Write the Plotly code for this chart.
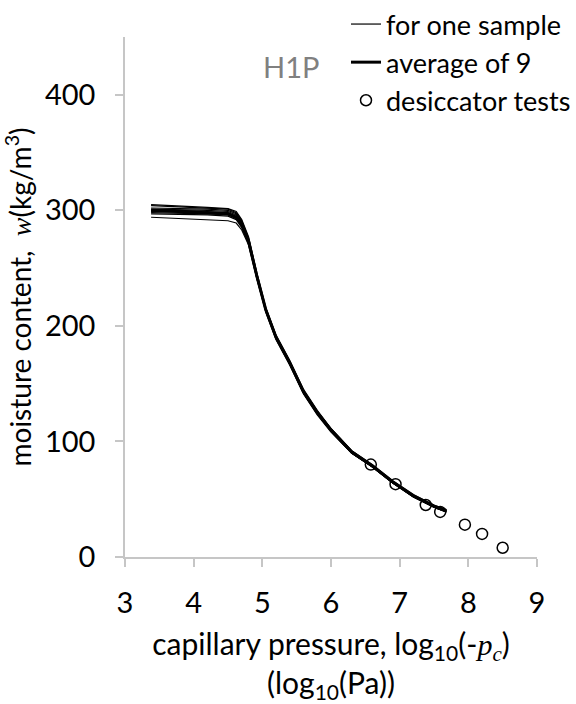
import plotly.graph_objects as go

# shared x grid (log10 of capillary pressure, Pa)
x_grid = [3.38, 3.8, 4.2, 4.5, 4.62, 4.7, 4.8, 4.92, 5.05, 5.2, 5.4, 5.6, 5.8, 6.0, 6.3, 6.6, 6.9, 7.2, 7.5, 7.68]

sample_1 = [305, 304, 302.5, 301.5, 299, 292, 277, 246, 216, 192, 170, 145, 127, 111, 92, 80, 66, 54, 45, 41]
sample_2 = [304, 303, 302, 301, 298, 291, 276, 245, 215, 191, 169, 144, 126, 111, 92, 79, 65, 53, 44, 40]
sample_3 = [302, 301.5, 301, 300, 297, 290, 274, 244, 214, 190, 168, 143, 125, 110, 91, 79, 65, 53, 44, 40]
sample_4 = [301, 300.5, 300, 299, 296, 289, 273, 243, 213, 189, 167, 142, 124, 109, 90, 78, 64, 52, 43, 39]
sample_5 = [300, 300, 299, 298, 295, 288, 274, 244, 215, 191, 169, 143, 125, 110, 91, 79, 65, 53, 44, 40]
sample_6 = [299, 298.5, 298, 297, 294, 287, 272, 242, 213, 189, 167, 142, 124, 109, 90, 78, 64, 53, 44, 40]
sample_7 = [298, 297.5, 297, 296, 293, 286, 271, 241, 212, 188, 166, 141, 123, 108, 90, 78, 64, 52, 43, 39]
sample_8 = [297, 296.5, 296, 295, 292, 285, 272, 243, 214, 190, 168, 143, 125, 110, 91, 79, 65, 53, 44, 40]
sample_9 = [294, 293, 292, 291, 289, 283, 270, 241, 213, 189, 167, 142, 124, 109, 90, 78, 64, 52, 43, 39]
samples = [sample_1, sample_2, sample_3, sample_4, sample_5, sample_6, sample_7, sample_8, sample_9]

average_9 = [300, 299, 298, 297, 294, 288, 273, 243, 214, 190, 168, 143, 125, 110, 91, 79, 65, 53, 44, 40]

desiccator_x = [6.58, 6.94, 7.38, 7.59, 7.95, 8.2, 8.5]
desiccator_w = [80, 63, 45, 39, 28, 20, 8]

x_ticks = [3, 4, 5, 6, 7, 8, 9]
y_ticks = [0, 100, 200, 300, 400]

FONT = "Lato"

fig = go.Figure()
for i, s in enumerate(samples):
    fig.add_trace(go.Scatter(
        x=x_grid, y=s, mode="lines", name="for one sample",
        line=dict(color="black", width=1.2),
        legendgroup="s", showlegend=(i == 0)))

fig.add_trace(go.Scatter(
    x=x_grid, y=average_9, mode="lines", name="average of 9",
    line=dict(color="black", width=3), legendgroup="a"))

fig.add_trace(go.Scatter(
    x=desiccator_x, y=desiccator_w, mode="markers", name="desiccator tests",
    marker=dict(symbol="circle-open", size=11, color="black", line=dict(width=1.5)),
    legendgroup="d"))

axis_col = "#c6c6c6"
fig.update_xaxes(
    range=[3, 9], tickvals=x_ticks, showgrid=False, zeroline=False,
    showline=True, linecolor=axis_col, linewidth=1.5,
    ticks="outside", ticklen=8, tickcolor=axis_col, tickwidth=1.5,
    ticklabelstandoff=11,
    tickfont=dict(family=FONT, size=29, color="black"),
    title=dict(
        text='capillary pressure, log<sub>10</sub>(-<i><span style="font-family:Liberation Serif">p<sub>c</sub></span></i>)<br>(log<sub>10</sub>(Pa))',
        font=dict(family=FONT, size=30, color="black"), standoff=16))
fig.update_yaxes(
    range=[0, 450], tickvals=y_ticks, showgrid=False, zeroline=False,
    showline=True, linecolor=axis_col, linewidth=1.5,
    ticks="outside", ticklen=8, tickcolor=axis_col, tickwidth=1.5,
    ticklabelstandoff=14,
    tickfont=dict(family=FONT, size=29, color="black"),
    title=dict(
        text='moisture content,  <i><span style="font-family:Liberation Serif">w</span></i>(kg/m<sup>3</sup>)',
        font=dict(family=FONT, size=28, color="black"), standoff=5))

fig.add_annotation(
    text="H1P", xref="paper", yref="paper", x=0.404, y=0.944,
    xanchor="center", yanchor="middle",
    showarrow=False, font=dict(family=FONT, size=29, color="#808080"))

fig.update_layout(
    width=576, height=704,
    margin=dict(l=125, r=39, t=37, b=147, autoexpand=False),
    paper_bgcolor="white", plot_bgcolor="white",
    font=dict(family=FONT, color="black"),
    legend=dict(
        xref="container", yref="container", x=1.0, y=1.0,
        xanchor="right", yanchor="top", bgcolor="rgba(0,0,0,0)",
        font=dict(family=FONT, size=27, color="black"),
        tracegroupgap=0, traceorder="normal"),
)

fig.write_html("out.html")
